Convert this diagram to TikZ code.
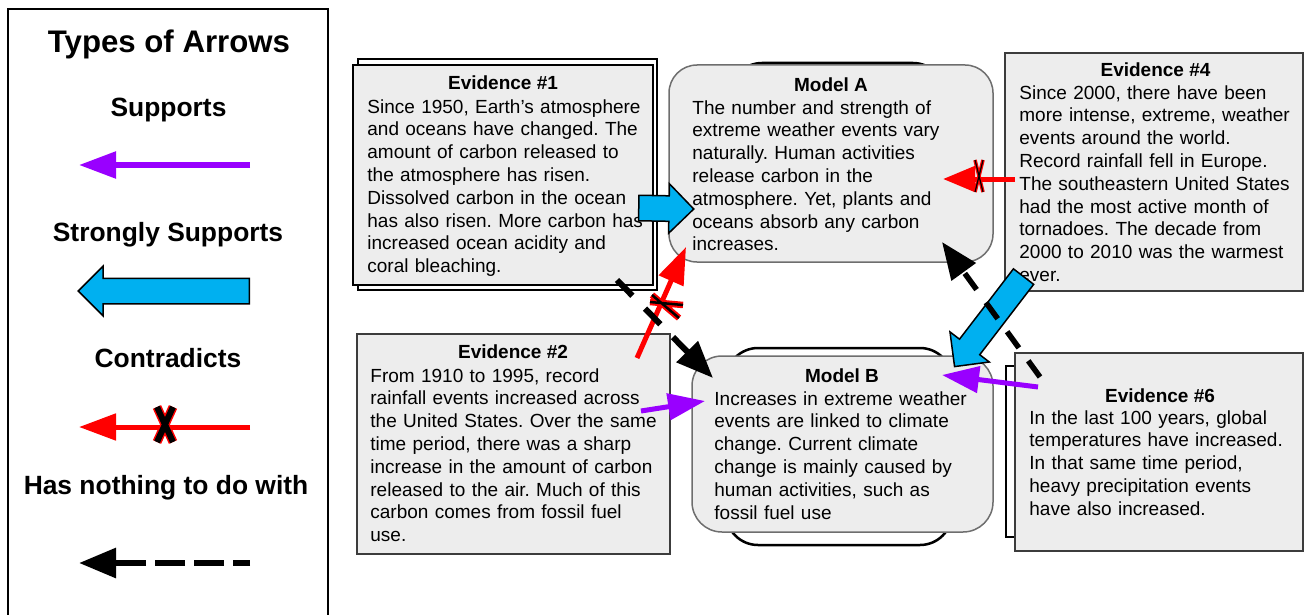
\documentclass[tikz,border=0pt]{standalone}
\usepackage{fontspec}
\setmainfont{Liberation Sans}
\usetikzlibrary{arrows.meta,calc,shapes.arrows}
\definecolor{boxgray}{RGB}{237,237,237}
\definecolor{edgegray}{RGB}{110,110,110}
\definecolor{darkedge}{RGB}{60,60,60}
\definecolor{suppurple}{RGB}{153,0,255}
\definecolor{strongblue}{RGB}{0,176,240}
\definecolor{conred}{RGB}{255,0,0}
\frenchspacing
\begin{document}
\begin{tikzpicture}[x=0.5pt,y=-0.5pt,
    plainbox/.style={draw=darkedge,line width=0.75pt,fill=boxgray,inner sep=0},
    frontbox/.style={draw=black,line width=1.25pt,fill=boxgray,inner sep=0},
    backbox/.style={draw=black,line width=1.25pt,fill=white,inner sep=0},
    modelbox/.style={draw=edgegray,line width=0.75pt,fill=boxgray,rounded corners=15pt,inner sep=0},
    modelback/.style={draw=black,line width=1.25pt,fill=white,rounded corners=16pt,inner sep=0},
    boxtitle/.style={font=\bfseries\fontsize{9.5}{11.4}\selectfont,anchor=base,inner sep=0},
    boxtext/.style={font=\fontsize{9.5}{11.4}\selectfont,anchor=base west,align=left,text width=160pt,inner sep=0},
    legendlabel/.style={font=\bfseries\fontsize{13.2}{15}\selectfont,anchor=base,inner sep=0},
    supports/.style={draw=suppurple,line width=2.75pt,-{Triangle[length=18.5pt,width=13pt]}},
    contradicts/.style={draw=conred,line width=2.5pt,-{Triangle[length=18.5pt,width=13pt]}},
    nothing/.style={draw=black,line width=3pt,-{Triangle[length=18.5pt,width=14.5pt]}},
    strong/.style={single arrow,draw=black,line width=0.75pt,fill=strongblue,inner xsep=0pt,inner ysep=6pt,
      minimum width=24pt,single arrow head extend=6pt,single arrow tip angle=90},
    xhalo/.style={draw=conred,line cap=square},
    xcore/.style={draw=black}]
\useasboundingbox (0,0) rectangle (1305,615);

% legend
\node[draw,line width=1.25pt,minimum width=160pt,minimum height=306.5pt] (legend) at (168,315.5) {};
\node[font=\bfseries\fontsize{15.6}{18}\selectfont,anchor=base,inner sep=0] (lgtitle) at (169,53) {Types of Arrows};
\node[legendlabel] (lgsup) at (168.5,117) {Supports};
\node[legendlabel] (lgstr) at (168,241) {Strongly Supports};
\node[legendlabel] (lgcon) at (168,367.5) {Contradicts};
\node[legendlabel] (lgnon) at (166,494) {Has nothing to do with};

\coordinate (lsupT) at (250,165); \coordinate (lsupH) at (79,165);
\coordinate (lstrT) at (250,291); \coordinate (lstrH) at (79,291);
\coordinate (lconT) at (250,427); \coordinate (lconH) at (79,427);
\coordinate (lnonT) at (250,563); \coordinate (lnonH) at (79,563);

% boxes
\node[backbox,minimum width=149.5pt,minimum height=115.5pt] (ev1back) at (507.5,174.5) {};
\node[frontbox,minimum width=150pt,minimum height=110pt] (ev1) at (503,175) {};
\node[modelback,minimum width=107.5pt,minimum height=93.5pt] (mAback) at (837.5,156.5) {};
\node[modelbox,rounded corners=14pt,minimum width=162pt,minimum height=98.5pt] (mA) at (831,163.5) {};
\node[plainbox,minimum width=149pt,minimum height=119pt] (ev4) at (1154,172) {};
\node[plainbox,minimum width=156.5pt,minimum height=110pt] (ev2) at (513.5,444) {};
\node[modelback,minimum width=113pt,minimum height=98.5pt] (mBback) at (839,446.5) {};
\node[modelbox,minimum width=150.5pt,minimum height=88pt] (mB) at (842.5,444) {};
\node[backbox,minimum width=97pt,minimum height=85.5pt] (ev6back) at (1103,451.5) {};
\node[plainbox,minimum width=144pt,minimum height=99pt] (ev6) at (1159,452) {};

% texts
\node[boxtitle] (ev1title) at (503,90) {Evidence \#1};
\node[boxtext] (ev1text) at (367,113) {Since 1950, Earth’s atmosphere\\
and oceans have changed. The\\
amount of carbon released to\\
the atmosphere has risen.\\
Dissolved carbon in the ocean\\
has also risen. More carbon has\\
increased ocean acidity and\\
coral bleaching.};
\node[boxtitle] (mAtitle) at (831,91) {Model A};
\node[boxtext] (mAtext) at (692,114) {The number and strength of\\
extreme weather events vary\\
naturally. Human activities\\
release carbon in the\\
atmosphere. Yet, plants and\\
oceans absorb any carbon\\
increases.};
\node[boxtitle] (ev4title) at (1155.5,76) {Evidence \#4};
\node[boxtext] (ev4text) at (1019,99) {Since 2000, there have been\\
more intense, extreme, weather\\
events around the world.\\
Record rainfall fell in Europe.\\
The southeastern United States\\
had the most active month of\\
tornadoes. The decade from\\
2000 to 2010 was the warmest\\
ever.};
\node[boxtitle] (ev2title) at (513,358) {Evidence \#2};
\node[boxtext] (ev2text) at (370,382) {From 1910 to 1995, record\\
rainfall events increased across\\
the United States. Over the same\\
time period, there was a sharp\\
increase in the amount of carbon\\
released to the air. Much of this\\
carbon comes from fossil fuel\\
use.};
\node[boxtitle] (mBtitle) at (842,382) {Model B};
\node[boxtext] (mBtext) at (714,405) {Increases in extreme weather\\
events are linked to climate\\
change. Current climate\\
change is mainly caused by\\
human activities, such as\\
fossil fuel use};
\node[boxtitle] (ev6title) at (1160,402) {Evidence \#6};
\node[boxtext] (ev6text) at (1029,424) {In the last 100 years, global\\
temperatures have increased.\\
In that same time period,\\
heavy precipitation events\\
have also increased.};

% arrow ends
\coordinate (s1T) at (638,208); \coordinate (s1H) at (693,209);
\coordinate (c2T) at (637,358); \coordinate (c2H) at (686,247);
\coordinate (n1T) at (617,280); \coordinate (n1H) at (713,378);
\coordinate (p2T) at (641,411); \coordinate (p2H) at (705,401);
\coordinate (c4T) at (1015,179); \coordinate (c4H) at (943,179);
\coordinate (s4T) at (1024,276); \coordinate (s4H) at (955,366);
\coordinate (n6T) at (1040,377); \coordinate (n6H) at (942,242);
\coordinate (p6T) at (1038,387); \coordinate (p6H) at (942,375);

% strongly supports
\path let \p1=($(lstrH)-(lstrT)$), \n1={veclen(\x1,\y1)} in
  (lstrT) -- (lstrH) node[strong,pos=0,sloped,allow upside down,anchor=tail,minimum height=\n1] {};
\path let \p1=($(s1H)-(s1T)$), \n1={veclen(\x1,\y1)} in
  (s1T) -- (s1H) node[strong,pos=0,sloped,allow upside down,anchor=tail,minimum height=\n1] {};
\path let \p1=($(s4H)-(s4T)$), \n1={veclen(\x1,\y1)} in
  (s4T) -- (s4H) node[strong,pos=0,sloped,allow upside down,anchor=tail,minimum height=\n1] {};

% thin arrows
\draw[supports] (lsupT) -- (lsupH);
\draw[contradicts] (lconT) -- (lconH);
\draw[nothing,dash pattern=on 15pt off 4.5pt,dash phase=6.5pt] (lnonT) -- (lnonH);
\draw[contradicts] (c2T) -- (c2H);
\draw[nothing,dash pattern=on 11pt off 9pt] (n1T) -- (n1H);
\draw[supports,line width=2.5pt] (p2T) -- (p2H);
\draw[contradicts,-{Triangle[length=16pt,width=12.5pt]}] (c4T) -- (c4H);
\draw[nothing,line width=2.75pt,dash pattern=on 10pt off 8pt] (n6T) -- (n6H);
\draw[supports,line width=2.5pt] (p6T) -- (p6H);

% crosses
\draw[xhalo,line width=4.5pt] (157,407) -- (173,442) (173,407) -- (157,442);
\draw[xcore,line width=3pt] (157,407) -- (173,442) (173,407) -- (157,442);
\draw[xhalo,line width=3.25pt] (652,295) -- (679,318) (650,302) -- (683,305);
\draw[xcore,line width=1.25pt] (652,295) -- (679,318) (650,302) -- (683,305);
\draw[xhalo,line width=1.8pt] (975,160) -- (983,192) (983,160) -- (975,192);
\draw[xcore,line width=0.6pt] (975,160) -- (983,192) (983,160) -- (975,192);
\end{tikzpicture}
\end{document}
